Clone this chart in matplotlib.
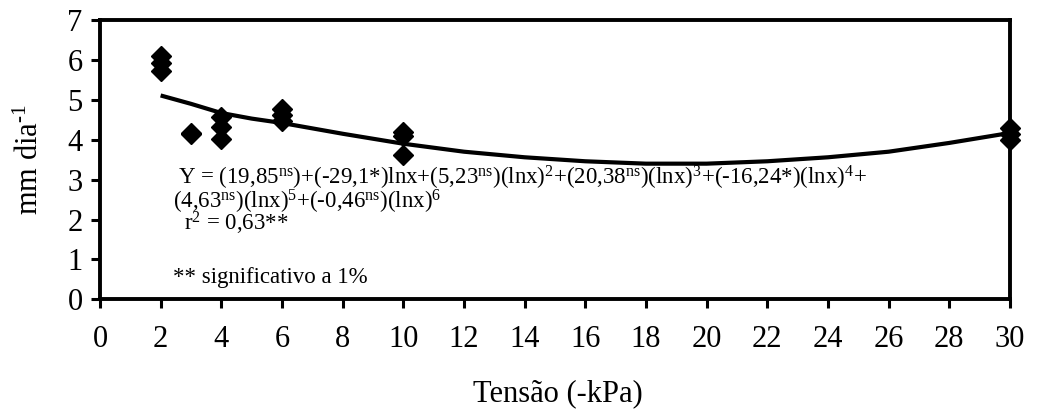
import matplotlib
matplotlib.use("Agg")
import matplotlib.pyplot as plt

plt.rcParams['font.family'] = ['Liberation Serif', 'DejaVu Serif']
plt.rcParams['mathtext.fontset'] = 'custom'
plt.rcParams['mathtext.rm'] = 'Liberation Serif'
plt.rcParams['mathtext.it'] = 'Liberation Serif:italic'

# observed points (tension, mm/day)
tensao = [2, 2, 2, 3, 3, 4, 4, 4, 6, 6, 6, 10, 10, 10, 30, 30, 30]
evap = [6.1, 5.92, 5.72, 4.15, 4.18, 4.58, 4.32, 4.03, 4.77, 4.63, 4.48,
        4.19, 4.1, 3.62, 4.3, 4.15, 4.0]

# fitted curve
curva_x = [2, 3, 4, 5, 6, 8, 10, 12, 14, 16, 18, 20, 22, 24, 26, 28, 30]
curva_y = [5.11, 4.9, 4.67, 4.53, 4.42, 4.15, 3.9, 3.7, 3.56, 3.46, 3.4,
           3.4, 3.46, 3.56, 3.7, 3.92, 4.17]

xticks = list(range(0, 31, 2))
yticks = list(range(0, 8))

fig = plt.figure(figsize=(10.38, 4.18), dpi=100)
ax = fig.add_axes([0.0963, 0.284, 0.8767, 0.668])

ax.plot(curva_x, curva_y, color='black', lw=3, solid_capstyle='butt')
ax.plot(tensao, evap, 'D', color='black', ms=10, clip_on=False, zorder=5)

ax.set_xlim(0, 30)
ax.set_ylim(0, 7)
ax.set_xticks(xticks)
ax.set_yticks(yticks)
ax.tick_params(axis='both', direction='out', length=6.5, width=2.2,
               labelsize=22, color='black')
ax.tick_params(axis='x', pad=12)
ax.tick_params(axis='y', pad=6)
for s in ax.spines.values():
    s.set_linewidth(2.8)

ax.set_xlabel('Tensão (-kPa)', fontsize=22)
ax.xaxis.set_label_coords(0.503, -0.285)
ax.set_ylabel(r'mm dia$^{\text{-1}}$', fontsize=22, va='center')
ax.yaxis.set_label_coords(-0.076, 0.5)

fs = 16.5
ax.text(0.0857, 0.41,
        r'Y = (19,85$^{\mathrm{ns}}$)+(-29,1*)lnx+(5,23$^{\mathrm{ns}}$)(lnx)$^{\mathrm{2}}$'
        r'+(20,38$^{\mathrm{ns}}$)(lnx)$^{\mathrm{3}}$+(-16,24*)(lnx)$^{\mathrm{4}}$+',
        transform=ax.transAxes, fontsize=fs, va='baseline')
ax.text(0.080, 0.325,
        r'(4,63$^{\mathrm{ns}}$)(lnx)$^{\mathrm{5}}$+(-0,46$^{\mathrm{ns}}$)(lnx)$^{\mathrm{6}}$',
        transform=ax.transAxes, fontsize=fs, va='baseline')
ax.text(0.0927, 0.246, r'r$^{\mathrm{2}}$ = 0,63**',
        transform=ax.transAxes, fontsize=fs, va='baseline')
ax.text(0.080, 0.058, '** significativo a 1%',
        transform=ax.transAxes, fontsize=fs, va='baseline')

fig.savefig('out.png', dpi=100)
